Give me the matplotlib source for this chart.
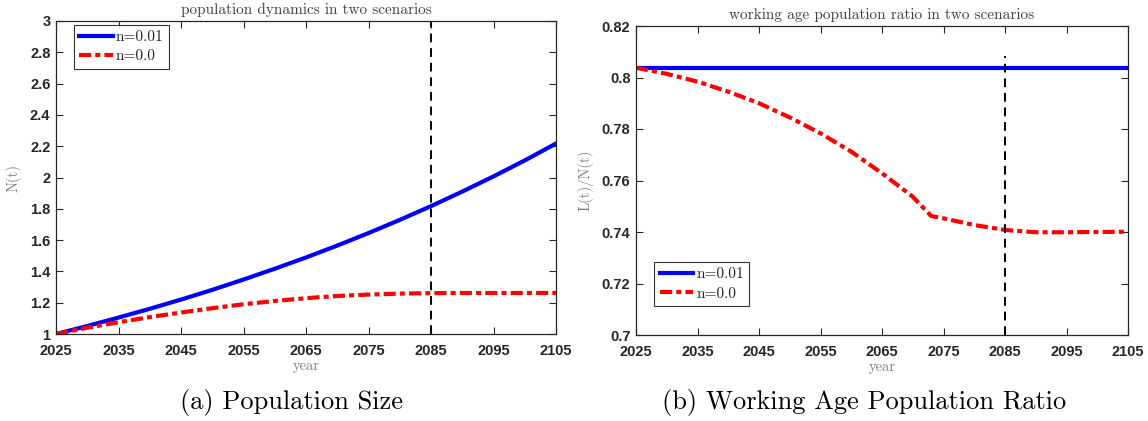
import matplotlib
matplotlib.use("Agg")
import matplotlib.pyplot as plt

years = [2025, 2030, 2035, 2040, 2045, 2050, 2055, 2060, 2065, 2070, 2075, 2080, 2085, 2090, 2095, 2100, 2105]
pop_n001 = [1.0, 1.051, 1.105, 1.161, 1.220, 1.282, 1.348, 1.417, 1.489, 1.565, 1.645, 1.729, 1.817, 1.910, 2.007, 2.109, 2.217]
pop_n000 = [1.0, 1.040, 1.075, 1.108, 1.137, 1.165, 1.190, 1.211, 1.229, 1.243, 1.252, 1.258, 1.261, 1.262, 1.262, 1.262, 1.262]

ratio_years = [2025, 2030, 2035, 2040, 2045, 2050, 2055, 2060, 2065, 2070, 2073, 2075, 2080, 2085, 2090, 2095, 2100, 2105]
ratio_n001 = [0.8038] * len(ratio_years)
ratio_n000 = [0.8038, 0.8014, 0.7984, 0.7945, 0.7900, 0.7845, 0.7783, 0.7712, 0.7628, 0.7537, 0.7462, 0.7453, 0.7427, 0.7408, 0.7399, 0.7399, 0.7400, 0.7401]

xticks = [2025, 2035, 2045, 2055, 2065, 2075, 2085, 2095, 2105]
yticks_a = [1, 1.2, 1.4, 1.6, 1.8, 2, 2.2, 2.4, 2.6, 2.8, 3]
yticklabels_a = ["1", "1.2", "1.4", "1.6", "1.8", "2", "2.2", "2.4", "2.6", "2.8", "3"]
yticks_b = [0.7, 0.72, 0.74, 0.76, 0.78, 0.8, 0.82]
yticklabels_b = ["0.7", "0.72", "0.74", "0.76", "0.78", "0.8", "0.82"]
vline_year = 2085
vline_top_b = 0.8083

serif = ["cmr10", "DejaVu Serif"]
tickfont = dict(family="Liberation Sans", weight="bold", size=10.5)

fig = plt.figure(figsize=(11.48, 4.21), dpi=100)
ax1 = fig.add_axes([56/1148, 87/421, 500/1148, 313/421])
ax2 = fig.add_axes([636/1148, 86/421, 492/1148, 309/421])

red_dash = (2.9, 1.0, 1.2, 1.0)

def style(ax, yt, ytl, ylim, ylabel, title):
    ax.set_xlim(2025, 2105)
    ax.set_ylim(*ylim)
    ax.set_xticks(xticks)
    ax.set_xticklabels([str(x) for x in xticks], fontdict=tickfont)
    ax.set_yticks(yt)
    ax.set_yticklabels(ytl, fontdict=tickfont)
    ax.tick_params(direction="in", top=True, right=True, length=5, width=0.8, colors="#262626")
    ax.tick_params(axis="x", pad=7)
    ax.tick_params(axis="y", pad=4)
    for s in ax.spines.values():
        s.set_color("#262626")
        s.set_linewidth(0.9)
    ax.set_xlabel("year", family=serif, size=10.5, color="#808080", labelpad=1)
    ax.set_ylabel(ylabel, family=serif, size=10.5, color="#808080", labelpad=6)
    ax.set_title(title, family=serif, size=11, color="#404040", pad=5)

def legend(ax, anchor):
    leg = ax.legend(loc="upper left", bbox_to_anchor=anchor, prop=dict(family=serif, size=11),
                    frameon=True, fancybox=False, edgecolor="black", handlelength=2.2, borderpad=0.35,
                    labelspacing=0.35, handletextpad=0.2, borderaxespad=0.0)
    leg.get_frame().set_linewidth(0.8)
    for t in leg.get_texts():
        t.set_color("#262626")

# (a)
ax1.plot(years, pop_n001, color="#0000ff", lw=3.0, label="n=0.01")
ax1.plot(years, pop_n000, color="#ff0000", lw=3.0, dashes=red_dash, label="n=0.0")
ax1.axvline(vline_year, color="black", lw=1.4, dashes=(4.5, 3))
style(ax1, yticks_a, yticklabels_a, (1, 3), "N(t)", "population dynamics in two scenarios")
legend(ax1, (0.036, 0.987))

# (b)
ax2.plot(ratio_years, ratio_n001, color="#0000ff", lw=3.0, label="n=0.01")
ax2.plot(ratio_years, ratio_n000, color="#ff0000", lw=3.0, dashes=red_dash, label="n=0.0")
ax2.plot([vline_year, vline_year], [0.7, vline_top_b], color="black", lw=1.4, dashes=(4.5, 3))
style(ax2, yticks_b, yticklabels_b, (0.7, 0.82), "L(t)/N(t)", "working age population ratio in two scenarios")
legend(ax2, (0.037, 0.235))

fig.text(292/1148, 1 - 403/421, "(a) Population Size", family=serif, size=19, ha="center", va="center")
fig.text(864/1148, 1 - 403/421, "(b) Working Age Population Ratio", family=serif, size=19, ha="center", va="center")

fig.savefig("out.png", dpi=100)
